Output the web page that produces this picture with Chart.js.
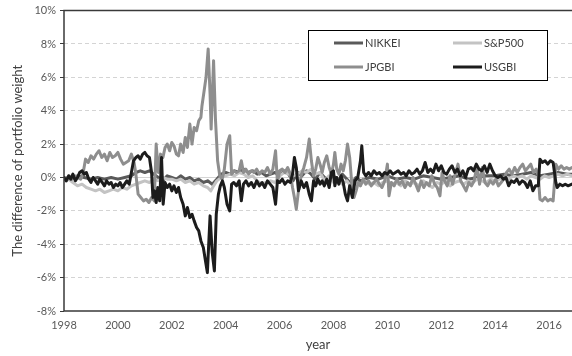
<!DOCTYPE html>
<html>
<head>
<meta charset="utf-8">
<script src="https://cdn.jsdelivr.net/npm/chart.js@4"></script>
<style>
  html, body { margin: 0; padding: 0; background: #fff; }
  #wrap { width: 572px; height: 356px; }
</style>
</head>
<body>
<div id="wrap"><canvas id="chart" width="572" height="356"></canvas></div>
<script>
const seriesNames = ['NIKKEI', 'S&P500', 'JPGBI', 'USGBI']
const xTicks = [1998, 2000, 2002, 2004, 2006, 2008, 2010, 2012, 2014, 2016]
const yTicks = [-8, -6, -4, -2, 0, 2, 4, 6, 8, 10]

const nikkeiYears = [1998.00,1998.25,1998.50,1998.75,1999.00,1999.25,1999.50,1999.75,2000.00,2000.25,2000.50,2000.67,2000.83,2001.00,2001.17,2001.33,2001.50,2001.67,2001.83,2002.00,2002.17,2002.33,2002.50,2002.67,2002.83,2003.00,2003.17,2003.33,2003.50,2003.67,2003.83,2004.00,2004.17,2004.33,2004.50,2004.67,2004.83,2005.00,2005.17,2005.33,2005.50,2005.67,2005.83,2006.00,2006.17,2006.33,2006.50,2006.67,2006.83,2007.00,2007.17,2007.33,2007.50,2007.67,2007.83,2008.00,2008.17,2008.33,2008.50,2008.67,2008.83,2009.00,2009.33,2009.67,2010.00,2010.33,2010.67,2011.00,2011.33,2011.67,2012.00,2012.33,2012.67,2013.00,2013.33,2013.67,2014.00,2014.33,2014.67,2015.00,2015.33,2015.67,2016.00,2016.33,2016.67,2016.85]
const nikkeiValues = [0.0,-0.1,0.1,0.0,-0.1,0.0,-0.1,0.0,-0.1,0.0,0.1,0.3,0.4,0.3,0.4,0.2,0.0,-0.2,0.1,0.0,-0.1,0.1,-0.1,0.0,-0.2,-0.1,-0.3,-0.2,-0.4,-0.1,0.2,0.3,0.2,0.4,0.3,0.5,0.3,0.4,0.2,0.3,0.1,0.2,0.3,0.1,0.4,0.2,-0.2,0.3,0.1,0.4,0.2,-0.1,0.3,0.0,-0.3,0.1,-0.2,0.2,-0.1,-0.4,0.0,-0.2,0.0,-0.1,0.1,-0.1,0.0,-0.1,0.1,0.0,-0.1,0.0,0.1,-0.1,0.0,0.1,0.1,0.2,0.1,0.2,0.3,0.1,0.2,0.3,0.2,0.2]

const spYears = [1998.00,1998.17,1998.33,1998.50,1998.67,1998.83,1999.00,1999.17,1999.33,1999.50,1999.67,1999.83,2000.00,2000.17,2000.33,2000.50,2000.67,2000.83,2001.00,2001.17,2001.33,2001.50,2001.67,2001.83,2002.00,2002.17,2002.33,2002.50,2002.67,2002.83,2003.00,2003.17,2003.33,2003.45,2003.55,2003.67,2003.83,2004.00,2004.17,2004.33,2004.50,2004.67,2004.83,2005.00,2005.17,2005.33,2005.50,2005.67,2005.83,2006.00,2006.17,2006.33,2006.50,2006.67,2006.83,2007.00,2007.17,2007.33,2007.50,2007.67,2007.83,2008.00,2008.17,2008.33,2008.50,2008.67,2008.83,2009.00,2009.17,2009.33,2009.50,2009.67,2009.83,2010.00,2010.17,2010.33,2010.50,2010.67,2010.83,2011.00,2011.17,2011.33,2011.50,2011.67,2011.83,2012.00,2012.17,2012.33,2012.50,2012.67,2012.83,2013.00,2013.17,2013.33,2013.50,2013.67,2013.83,2014.00,2014.17,2014.33,2014.50,2014.67,2014.83,2015.00,2015.17,2015.33,2015.50,2015.67,2015.83,2016.00,2016.17,2016.33,2016.50,2016.67,2016.85]
const spValues = [0.0,-0.1,-0.3,-0.5,-0.4,-0.6,-0.7,-0.8,-0.7,-0.9,-0.8,-0.7,-0.8,-0.6,-0.7,-0.5,-0.4,-0.3,-0.2,-0.3,-0.1,-0.2,0.0,-0.1,-0.1,-0.2,-0.1,-0.3,-0.2,-0.4,-0.3,-0.5,-0.6,-0.8,-0.5,-0.2,0.0,0.1,0.2,0.1,0.3,0.2,0.0,0.1,-0.2,-0.4,-0.3,-0.2,-0.3,0.1,0.3,0.2,0.1,0.2,0.4,0.3,0.5,0.2,0.3,-0.2,0.1,-0.3,-0.1,-0.4,-0.2,-0.6,-0.3,-0.4,-0.2,-0.4,-0.3,-0.5,-0.3,-0.2,-0.4,-0.3,-0.5,-0.2,-0.4,-0.3,-0.5,-0.2,-0.4,-0.6,-0.3,-0.4,-0.2,-0.5,-0.3,-0.2,-0.4,-0.2,-0.3,-0.1,-0.2,-0.3,-0.1,-0.2,-0.1,0.0,-0.1,0.1,0.0,0.1,-0.1,0.1,0.0,-0.1,0.1,0.0,0.1,0.2,0.1,0.2,0.1]

const jpgbiYears = [1998.00,1998.10,1998.20,1998.30,1998.40,1998.50,1998.62,1998.70,1998.80,1998.90,1999.00,1999.10,1999.20,1999.30,1999.40,1999.50,1999.60,1999.70,1999.80,1999.90,2000.00,2000.10,2000.20,2000.30,2000.40,2000.50,2000.60,2000.66,2000.75,2000.85,2000.95,2001.05,2001.15,2001.25,2001.35,2001.42,2001.50,2001.58,2001.67,2001.75,2001.83,2001.92,2002.00,2002.08,2002.17,2002.25,2002.33,2002.42,2002.50,2002.58,2002.67,2002.75,2002.83,2002.92,2003.00,2003.08,2003.12,2003.20,2003.27,2003.35,2003.42,2003.46,2003.55,2003.62,2003.70,2003.78,2003.87,2003.95,2004.05,2004.15,2004.22,2004.30,2004.40,2004.50,2004.58,2004.66,2004.75,2004.85,2004.95,2005.05,2005.15,2005.25,2005.35,2005.45,2005.55,2005.65,2005.75,2005.85,2005.92,2006.00,2006.10,2006.20,2006.30,2006.40,2006.48,2006.55,2006.62,2006.70,2006.80,2006.90,2007.00,2007.10,2007.18,2007.26,2007.34,2007.42,2007.50,2007.58,2007.66,2007.75,2007.84,2007.92,2008.00,2008.05,2008.12,2008.20,2008.28,2008.36,2008.44,2008.52,2008.60,2008.68,2008.76,2008.84,2008.92,2009.00,2009.10,2009.20,2009.30,2009.40,2009.50,2009.60,2009.70,2009.80,2009.90,2010.00,2010.06,2010.15,2010.25,2010.35,2010.45,2010.55,2010.65,2010.75,2010.85,2010.95,2011.05,2011.15,2011.25,2011.35,2011.45,2011.55,2011.65,2011.75,2011.85,2011.95,2012.03,2012.12,2012.22,2012.32,2012.42,2012.52,2012.62,2012.72,2012.82,2012.92,2013.02,2013.12,2013.22,2013.32,2013.42,2013.52,2013.62,2013.72,2013.82,2013.92,2014.02,2014.12,2014.22,2014.32,2014.42,2014.52,2014.62,2014.72,2014.82,2014.92,2015.02,2015.12,2015.22,2015.32,2015.42,2015.52,2015.60,2015.66,2015.75,2015.85,2015.95,2016.05,2016.15,2016.25,2016.35,2016.45,2016.55,2016.65,2016.75,2016.85]
const jpgbiValues = [0.0,-0.2,0.1,-0.1,0.1,0.0,-0.1,0.2,1.1,0.9,1.3,1.1,1.4,1.6,1.2,1.4,1.0,1.5,1.2,1.3,1.5,1.1,0.8,0.9,1.0,1.4,0.9,0.3,-1.0,-1.2,-1.4,-1.3,-1.5,-1.2,-1.4,2.0,0.3,1.4,1.2,1.8,2.0,1.6,2.1,1.9,1.4,1.3,2.0,1.5,2.4,1.8,3.2,2.0,3.0,2.8,3.4,3.6,4.3,5.2,6.0,7.7,5.0,2.9,7.0,3.5,1.0,0.1,-0.1,0.5,2.0,2.5,0.2,0.4,0.3,0.4,1.0,0.3,0.5,0.2,0.4,0.3,0.5,0.2,0.4,0.3,0.6,0.2,0.5,1.6,-0.3,0.4,0.5,0.3,0.6,0.2,-0.6,-1.2,-1.9,-0.8,0.1,0.6,1.2,2.3,1.0,0.1,0.5,1.2,0.8,0.3,0.9,1.3,0.6,0.2,0.8,1.5,0.5,0.2,0.8,0.4,1.0,2.0,1.2,-0.4,-1.2,-0.8,-0.3,-0.5,-0.1,-0.4,-0.2,-0.5,-0.3,-0.1,-0.4,-0.6,-0.2,0.8,-1.1,-0.3,-0.5,-0.1,-0.4,-0.2,-0.6,-0.3,-0.5,0.0,-0.4,-0.8,-0.2,-0.6,-0.3,-0.5,0.1,-0.4,-0.6,-1.1,0.3,-0.2,-0.5,0.1,-0.4,0.2,0.8,-0.2,-0.5,-0.8,-0.3,-0.5,-0.2,0.7,-0.4,0.6,-0.3,-0.5,-0.2,-0.4,-0.1,-0.5,-0.3,-0.1,0.3,0.5,0.2,0.6,0.3,0.6,0.8,0.4,0.6,0.8,0.3,0.5,0.1,-1.3,-1.4,-1.2,-1.4,-1.3,-1.4,0.8,0.5,0.7,0.5,0.6,0.5,0.6]

const usgbiYears = [1998.00,1998.08,1998.17,1998.25,1998.33,1998.42,1998.50,1998.58,1998.67,1998.75,1998.83,1998.92,1999.00,1999.08,1999.17,1999.25,1999.33,1999.42,1999.50,1999.58,1999.67,1999.75,1999.83,1999.92,2000.00,2000.08,2000.17,2000.25,2000.33,2000.42,2000.50,2000.58,2000.67,2000.75,2000.83,2000.92,2001.00,2001.08,2001.17,2001.25,2001.30,2001.36,2001.42,2001.48,2001.55,2001.62,2001.68,2001.75,2001.83,2001.92,2002.00,2002.08,2002.17,2002.25,2002.33,2002.42,2002.50,2002.58,2002.67,2002.75,2002.83,2002.92,2003.00,2003.08,2003.17,2003.25,2003.32,2003.42,2003.50,2003.58,2003.65,2003.73,2003.80,2003.88,2003.95,2004.05,2004.15,2004.22,2004.30,2004.40,2004.50,2004.58,2004.66,2004.75,2004.85,2004.95,2005.05,2005.15,2005.25,2005.35,2005.45,2005.55,2005.65,2005.75,2005.85,2005.92,2006.00,2006.10,2006.20,2006.30,2006.40,2006.48,2006.55,2006.62,2006.70,2006.80,2006.90,2007.00,2007.10,2007.18,2007.26,2007.34,2007.42,2007.50,2007.58,2007.66,2007.75,2007.84,2007.92,2008.00,2008.05,2008.12,2008.20,2008.28,2008.36,2008.44,2008.52,2008.60,2008.70,2008.80,2008.90,2009.00,2009.05,2009.12,2009.20,2009.30,2009.40,2009.50,2009.60,2009.70,2009.80,2009.90,2010.00,2010.10,2010.20,2010.30,2010.40,2010.50,2010.60,2010.70,2010.80,2010.90,2011.00,2011.10,2011.20,2011.30,2011.40,2011.50,2011.60,2011.70,2011.80,2011.90,2012.00,2012.10,2012.20,2012.30,2012.40,2012.50,2012.60,2012.70,2012.80,2012.90,2013.00,2013.10,2013.20,2013.30,2013.40,2013.50,2013.60,2013.70,2013.80,2013.90,2014.00,2014.10,2014.20,2014.30,2014.40,2014.50,2014.60,2014.70,2014.80,2014.90,2015.00,2015.10,2015.20,2015.30,2015.40,2015.50,2015.60,2015.66,2015.75,2015.85,2015.95,2016.05,2016.15,2016.25,2016.30,2016.40,2016.50,2016.60,2016.70,2016.85]
const usgbiValues = [0.0,-0.2,0.1,-0.1,0.2,-0.2,0.0,0.3,0.4,0.2,0.3,-0.1,-0.3,0.0,-0.2,-0.4,-0.1,-0.3,-0.5,-0.2,-0.4,-0.3,-0.6,-0.4,-0.5,-0.3,-0.6,-0.4,-0.2,-0.4,0.3,1.0,1.2,1.3,1.1,1.4,1.5,1.3,1.2,0.3,-1.2,-0.8,-1.5,-0.6,-1.4,1.2,-1.6,-0.3,-0.6,-0.4,-0.8,-0.5,-0.9,-0.6,-1.2,-1.6,-2.3,-1.8,-2.4,-2.2,-2.6,-3.0,-3.2,-3.8,-4.2,-5.0,-5.7,-2.3,-4.5,-5.6,-2.2,-1.0,-0.5,-0.2,-0.6,-1.6,-2.0,-0.4,-0.3,-0.5,-0.2,-1.4,-0.4,-0.2,-0.5,-0.3,-0.6,-0.2,-0.5,-0.3,-0.6,-0.2,-0.4,-0.6,-1.6,-0.2,-0.3,-0.1,-0.4,-0.2,-0.3,0.2,1.2,0.6,-0.8,-0.2,-0.6,-0.3,-1.0,-1.4,-0.2,-0.5,-0.1,-0.4,-0.2,-0.5,-0.1,-0.6,0.3,0.4,-0.5,0.0,-0.4,0.1,-0.3,-1.0,-1.4,-0.5,-1.2,-0.2,0.0,1.0,1.9,0.3,0.1,0.3,0.1,0.4,0.2,0.3,0.1,0.3,0.2,0.4,0.2,0.3,0.4,0.2,0.3,0.1,0.4,0.2,0.3,0.5,0.2,0.4,0.9,0.3,0.5,0.3,0.8,0.4,0.7,0.3,0.2,0.5,0.7,0.3,0.5,0.1,0.4,0.0,0.5,0.6,0.4,0.8,0.5,0.4,0.7,0.3,0.8,0.4,0.1,0.0,0.1,-0.1,0.0,-0.5,-0.2,-0.3,-0.1,-0.4,-0.2,-0.3,-0.6,-0.2,-0.8,-0.5,-0.5,1.1,0.9,1.0,0.8,1.0,0.9,-0.3,-0.6,-0.4,-0.5,-0.4,-0.5,-0.4]

const lineColors = ['#5a5a5a', '#c3c3c3', '#8e8e8e', '#1c1c1c']

function toPoints(xs, ys) {
  return xs.map((x, i) => ({ x: x, y: ys[i] }))
}

// frame around plot + legend box inside the plot
const framePlugin = {
  id: 'frame',
  afterDatasetsDraw(chart) {
    const c = chart.ctx
    const a = chart.chartArea
    c.save()
    c.strokeStyle = '#3a3a3a'
    c.lineWidth = 1.5
    c.beginPath()
    c.moveTo(a.right + 2, a.top)
    c.lineTo(a.left, a.top)
    c.lineTo(a.left, a.bottom)
    c.lineTo(a.right + 2, a.bottom)
    c.stroke()

    // legend
    const bx = 308.5, by = 30.5, bw = 239, bh = 50
    c.fillStyle = '#fff'
    c.fillRect(bx, by, bw, bh)
    c.strokeStyle = '#000'
    c.lineWidth = 1
    c.strokeRect(bx, by, bw, bh)
    const cols = [334, 453]
    const rows = [43, 67]
    c.font = '11px Lato, "Liberation Sans", sans-serif'
    c.textBaseline = 'middle'
    c.textAlign = 'left'
    chart.data.datasets.forEach((ds, i) => {
      const x = cols[i % 2], y = rows[Math.floor(i / 2)]
      c.strokeStyle = ds.borderColor
      c.lineWidth = 3
      c.beginPath()
      c.moveTo(x, y)
      c.lineTo(x + 29, y)
      c.stroke()
      c.fillStyle = '#404040'
      c.fillText(ds.label, x + 31, y + 0.5)
    })
    c.restore()
  }
}

const ctx = document.getElementById('chart')
const datasets = [
  { label: seriesNames[0], data: toPoints(nikkeiYears, nikkeiValues), order: 3 },
  { label: seriesNames[1], data: toPoints(spYears, spValues), order: 2 },
  { label: seriesNames[2], data: toPoints(jpgbiYears, jpgbiValues), order: 1 },
  { label: seriesNames[3], data: toPoints(usgbiYears, usgbiValues), order: 0 }
].map((d, i) => Object.assign(d, {
  borderColor: lineColors[i],
  backgroundColor: lineColors[i],
  borderWidth: 3,
  pointRadius: 0,
  tension: 0,
  borderJoinStyle: 'round',
  borderCapStyle: 'round',
  fill: false
}))

const chart = new Chart(ctx, {
  type: 'line',
  data: { datasets: datasets },
  options: {
    responsive: false,
    animation: false,
    devicePixelRatio: 1,
    layout: { padding: { top: 10, right: 0, left: 0, bottom: 0 } },
    plugins: { legend: { display: false }, tooltip: { enabled: false } },
    scales: {
      x: {
        type: 'linear',
        min: 1998,
        max: 2016.85,
        afterBuildTicks: s => { s.ticks = xTicks.map(v => ({ value: v })) },
        afterFit: s => { s.height = 45 },
        ticks: {
          callback: v => String(v),
          color: '#595959',
          font: { family: 'Lato', size: 11 },
          padding: 8,
          maxRotation: 0
        },
        grid: { display: false, drawTicks: false },
        border: { display: false },
        title: {
          display: true,
          text: 'year',
          color: '#404040',
          font: { family: 'Lato', size: 13 },
          padding: { top: 0, bottom: 3 }
        }
      },
      y: {
        min: -8,
        max: 10,
        afterBuildTicks: s => { s.ticks = yTicks.map(v => ({ value: v })) },
        afterFit: s => { s.width = 64 },
        ticks: {
          callback: v => v + '%',
          color: '#595959',
          font: { family: 'Lato', size: 11 },
          padding: 4
        },
        grid: {
          color: c => (c.tick && (c.tick.value === 10 || c.tick.value === -8)) ? 'rgba(0,0,0,0)' : '#d4d4d4',
          lineWidth: 1,
          tickLength: 4,
          tickColor: '#3a3a3a'
        },
        border: {
          display: false,
          dash: c => (c.tick && c.tick.value !== 0) ? [4, 3] : []
        },
        title: {
          display: true,
          text: 'The difference of portfolio weight',
          color: '#404040',
          font: { family: 'Lato', size: 13 },
          padding: { top: 10, bottom: 0 }
        }
      }
    }
  },
  plugins: [framePlugin]
})
</script>
</body>
</html>
